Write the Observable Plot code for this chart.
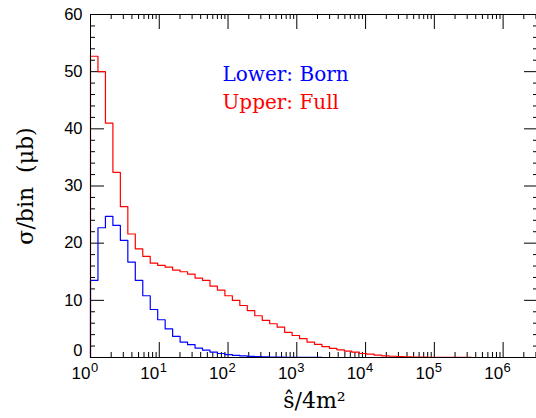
<!DOCTYPE html>
<html>
<head>
<meta charset="utf-8">
<script src="https://cdn.jsdelivr.net/npm/d3@7"></script>
<script src="https://cdn.jsdelivr.net/npm/@observablehq/plot@0.6"></script>
<style>
  html, body { margin: 0; padding: 0; background: #fff; overflow: hidden; }
  #chart svg { display: block; max-width: none; }
</style>
</head>
<body>
<div id="chart"></div>
<script>
// Bin width in ln(ŝ/4m²); bins start at ŝ/4m² = 1
const binWidthLn = 0.25;
const nBins = 60;

// Lower curve: Born (σ per bin, μb)
const bornValues = [
  13.5, 22.7, 24.7, 23.1, 20.5, 16.7, 13.5, 10.8, 8.4, 6.6,
  5.0, 3.7, 2.7, 2.25, 1.65, 1.3, 0.95, 0.7, 0.5, 0.38,
  0.28, 0.2, 0.15, 0.1, 0.07, 0.05, 0.035, 0.025, 0.015, 0.01,
  0.005, 0.003, 0.002, 0.001, 0, 0, 0, 0, 0, 0,
  0, 0, 0, 0, 0, 0, 0, 0, 0, 0,
  0, 0, 0, 0, 0, 0, 0, 0, 0, 0
];

// Upper curve: Full (σ per bin, μb)
const fullValues = [
  52.7, 50.0, 41.0, 32.4, 26.4, 21.6, 19.0, 17.7, 16.5, 16.1,
  15.8, 15.3, 15.0, 14.6, 13.9, 13.5, 12.5, 11.8, 10.8, 10.0,
  9.1, 8.2, 7.3, 6.5, 5.9, 5.3, 4.4, 3.85, 3.3, 2.7,
  2.3, 1.9, 1.6, 1.35, 1.1, 0.93, 0.7, 0.58, 0.4, 0.3,
  0.22, 0.16, 0.12, 0.09, 0.06, 0.045, 0.03, 0.02, 0.015, 0.01,
  0.005, 0.003, 0.002, 0.001, 0.001, 0, 0, 0, 0, 0
];

const seriesNames = ["Lower: Born", "Upper: Full"];
const seriesColors = ["#0000ff", "#ff0000"];

const yTickLabels = [10, 20, 30, 40, 50, 60];
const yZeroLabel = [0];
const yMajorTicks = [0, 10, 20, 30, 40, 50, 60];
const yMinorTicks = [2, 4, 6, 8, 12, 14, 16, 18, 22, 24, 26, 28, 32, 34, 36, 38, 42, 44, 46, 48, 52, 54, 56, 58];
const xTickExponents = [0, 1, 2, 3, 4, 5, 6];
const xMinorMultipliers = [2, 3, 4, 5, 6, 7, 8, 9];

const yLabel = "σ/bin\u00a0\u00a0(μb)";
const xLabel = "ŝ/4m²";

// ---- build tables
const xMax = Math.exp(nBins * binWidthLn);
function stepPoints(values) {
  const pts = [{x: 1, y: 0}];
  values.forEach((v, i) => pts.push({x: Math.exp(i * binWidthLn), y: v}));
  pts.push({x: Math.exp(values.length * binWidthLn), y: values[values.length - 1]});
  return pts;
}
const bornPts = stepPoints(bornValues);
const fullPts = stepPoints(fullValues);
const xMajor = xTickExponents.map(e => 10 ** e);
const xMinor = [];
xTickExponents.forEach(e => xMinorMultipliers.forEach(m => { const v = m * 10 ** e; if (v <= xMax) xMinor.push(v); }));

const W = 536, H = 418;
const mL = 90, mR = -2, mT = 14, mB = 61;
const fw = W - mL - mR, fh = H - mT - mB;
const majY = 14, minY = 5, majX = 15, minX = 5;
const serif = "DejaVu Serif";
const sans = "Liberation Sans";

const plot = Plot.plot({
  width: W, height: H,
  marginLeft: mL, marginRight: mR, marginTop: mT, marginBottom: mB,
  style: {background: "#fff", overflow: "visible"},
  x: {type: "log", domain: [1, xMax], axis: null},
  y: {domain: [0, 60], axis: null},
  marks: [
    // tick marks, all pointing inward, on all four sides
    Plot.tickY(yMajorTicks, {y: d => d, insetRight: fw - majY, stroke: "#000"}),
    Plot.tickY(yMinorTicks, {y: d => d, insetRight: fw - minY, stroke: "#000"}),
    Plot.tickY(yMajorTicks, {y: d => d, insetLeft: fw - majY, stroke: "#000"}),
    Plot.tickY(yMinorTicks, {y: d => d, insetLeft: fw - minY, stroke: "#000"}),
    Plot.tickX(xMajor, {x: d => d, insetTop: fh - majX, stroke: "#000"}),
    Plot.tickX(xMinor, {x: d => d, insetTop: fh - minX, stroke: "#000"}),
    Plot.tickX(xMajor, {x: d => d, insetBottom: fh - majX, stroke: "#000"}),
    Plot.tickX(xMinor, {x: d => d, insetBottom: fh - minX, stroke: "#000"}),
    // data
    Plot.line(bornPts, {x: "x", y: "y", curve: "step-after", stroke: seriesColors[0], strokeWidth: 1.2}),
    Plot.line(fullPts, {x: "x", y: "y", curve: "step-after", stroke: seriesColors[1], strokeWidth: 1.2}),
    Plot.frame({stroke: "#000", strokeWidth: 1}),
    // y tick labels
    Plot.text(yTickLabels, {y: d => d, text: d => String(d), frameAnchor: "left", dx: -8, textAnchor: "end", fontSize: 16.5, fontFamily: sans, fill: "#000"}),
    Plot.text(yZeroLabel, {y: d => d, text: d => String(d), frameAnchor: "left", dx: -8, dy: -7, textAnchor: "end", fontSize: 16.5, fontFamily: sans, fill: "#000"}),
    // x tick labels: "10" + exponent
    Plot.text(xTickExponents, {x: e => 10 ** e, text: () => "10", frameAnchor: "bottom", lineAnchor: "bottom", dy: 21, textAnchor: "end", fontSize: 17, fontFamily: sans, fill: "#000"}),
    Plot.text(xTickExponents, {x: e => 10 ** e, text: e => String(e), frameAnchor: "bottom", lineAnchor: "bottom", dy: 14.5, dx: 0.5, textAnchor: "start", fontSize: 13, fontFamily: sans, fill: "#000"}),
    // axis titles
    Plot.text([xLabel], {text: d => d, frameAnchor: "bottom", lineAnchor: "bottom", dy: 50, textAnchor: "middle", fontSize: 22, letterSpacing: 2, fontFamily: serif, fill: "#000"}),
    Plot.text([yLabel], {text: d => d, frameAnchor: "left", dx: -65, dy: 0, rotate: -90, textAnchor: "middle", lineAnchor: "middle", fontSize: 22, letterSpacing: 1.5, fontFamily: serif, fill: "#000"}),
    // in-plot legend text
    Plot.text([seriesNames[0]], {text: d => d, frameAnchor: "top-left", dx: 132, dy: 66, lineAnchor: "bottom", textAnchor: "start", fontSize: 20, fontFamily: serif, fill: seriesColors[0]}),
    Plot.text([seriesNames[1]], {text: d => d, frameAnchor: "top-left", dx: 132, dy: 94, lineAnchor: "bottom", textAnchor: "start", fontSize: 20, fontFamily: serif, fill: seriesColors[1]})
  ]
});
document.getElementById("chart").appendChild(plot);
</script>
</body>
</html>
